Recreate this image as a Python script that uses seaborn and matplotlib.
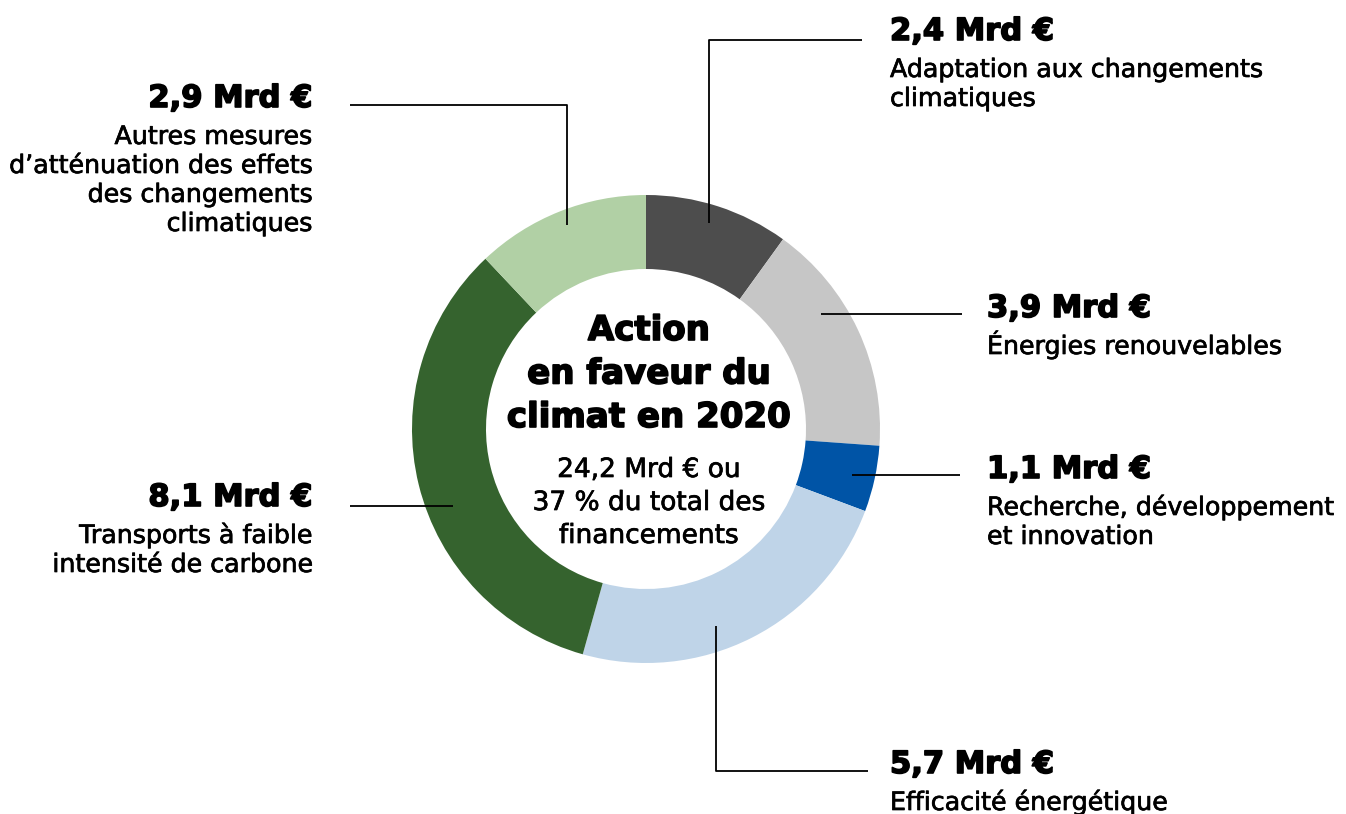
import matplotlib
matplotlib.use("Agg")
import matplotlib.pyplot as plt
import matplotlib.patheffects as pe
import seaborn as sns

# chart data, clockwise from 12 o'clock
values = [2.4, 3.9, 1.1, 5.7, 8.1, 2.9]
value_labels = ["2,4 Mrd €", "3,9 Mrd €", "1,1 Mrd €", "5,7 Mrd €", "8,1 Mrd €", "2,9 Mrd €"]
categories = [
    ["Adaptation aux changements", "climatiques"],
    ["Énergies renouvelables"],
    ["Recherche, développement", "et innovation"],
    ["Efficacité énergétique"],
    ["Transports à faible", "intensité de carbone"],
    ["Autres mesures", "d’atténuation des effets", "des changements", "climatiques"],
]
colors = ["#4d4d4d", "#c6c6c6", "#0054a6", "#bfd4e8", "#35632e", "#b1d0a5"]
center_title = ["Action", "en faveur du", "climat en 2020"]
center_sub = ["24,2 Mrd € ou", "37 % du total des", "financements"]

W, H = 1346, 814
sns.set_theme(style="white")
plt.rcParams["font.family"] = ["DejaVu Sans"]

# thicken strokes a bit: body text is medium weight, headings are "black"
body_fx = [pe.withStroke(linewidth=0.5, foreground="black")]
head_fx = [pe.withStroke(linewidth=1.2, foreground="black")]

fig = plt.figure(figsize=(W / 100, H / 100), dpi=100)
ax = fig.add_axes([0, 0, 1, 1])


def fy(y):
    # pixel row (from top) -> data y
    return H - y


cx, cy, r, ring = 646, 429, 234, 74
ax.pie(values, colors=colors, startangle=90, counterclock=False,
       center=(cx, fy(cy)), radius=r,
       wedgeprops=dict(width=ring, linewidth=0, edgecolor="none"))
ax.set_xlim(0, W)
ax.set_ylim(0, H)
ax.set_aspect("equal")
ax.axis("off")

# leader lines (pixel coords of label anchor -> into ring)
leaders = [
    [(862, 40), (709, 40), (709, 223)],
    [(962, 314), (821, 314)],
    [(960, 475), (852, 475)],
    [(868, 771), (716, 771), (716, 626)],
    [(350, 506), (453, 506)],
    [(350, 105), (567, 105), (567, 225)],
]
for pts in leaders:
    ax.plot([p[0] for p in pts], [fy(p[1]) for p in pts], color="black",
            lw=1.3, solid_capstyle="butt", zorder=5)

# label anchors: x, heading baseline, alignment
anchors = [
    (890, 40, "left"),
    (987, 317, "left"),
    (987, 478, "left"),
    (890, 773, "left"),
    (312, 506, "right"),
    (312, 107, "right"),
]
for (x, yb, ha), head, lines in zip(anchors, value_labels, categories):
    ax.text(x, fy(yb), head, ha=ha, va="baseline", fontsize=22,
            fontweight="bold", color="black", path_effects=head_fx)
    for i, line in enumerate(lines):
        ax.text(x, fy(yb + 37 + i * 29), line, ha=ha, va="baseline",
                fontsize=18.2, color="black", path_effects=body_fx)

for i, line in enumerate(center_title):
    ax.text(cx + 3, fy(340 + i * 43.5), line, ha="center", va="baseline",
            fontsize=24.5, fontweight="bold", color="black", path_effects=head_fx)
for i, line in enumerate(center_sub):
    ax.text(cx + 3, fy(477 + i * 33), line, ha="center", va="baseline",
            fontsize=19, color="black", path_effects=body_fx)

fig.savefig("out.png", dpi=100)
